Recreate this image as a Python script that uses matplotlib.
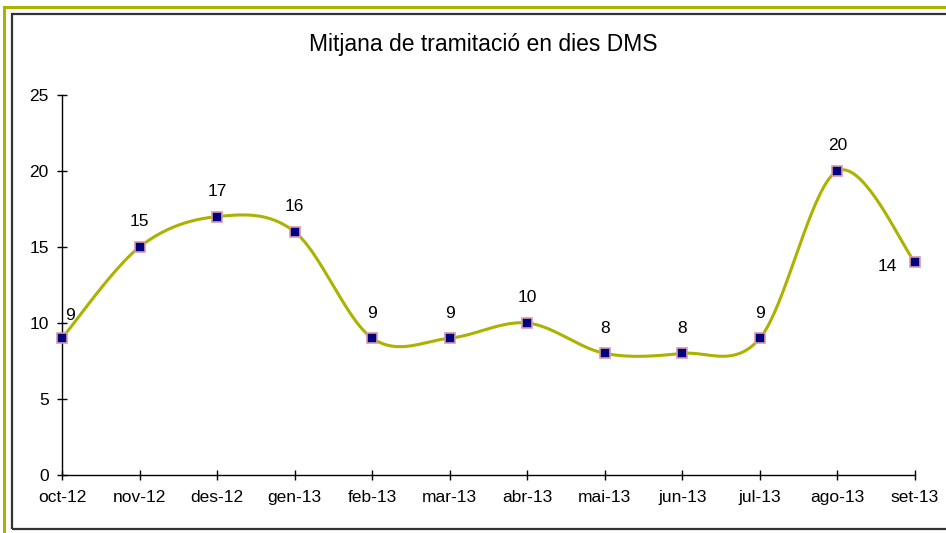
import numpy as np
from matplotlib import pyplot as plt
from matplotlib.patches import Rectangle

months = ['oct-12', 'nov-12', 'des-12', 'gen-13', 'feb-13', 'mar-13',
          'abr-13', 'mai-13', 'jun-13', 'jul-13', 'ago-13', 'set-13']
days = [9, 15, 17, 16, 9, 9, 10, 8, 8, 9, 20, 14]
# label offsets in points (dx, dy)
label_offsets = [(6, 16)] + [(0, 18)] * 10 + [(-20, -3)]

LINE = '#A9B300'


def smooth(xs, ys, n=40):
    # excel-like smoothing: cubic bezier with catmull-rom control points
    xs = np.asarray(xs, float)
    ys = np.asarray(ys, float)
    px = np.concatenate([[xs[0]], xs, [xs[-1]]])
    py = np.concatenate([[ys[0]], ys, [ys[-1]]])
    outx, outy = [], []
    t = np.linspace(0, 1, n)
    for i in range(1, len(px) - 2):
        p0 = np.array([px[i], py[i]])
        p3 = np.array([px[i + 1], py[i + 1]])
        c1 = p0 + (np.array([px[i + 1], py[i + 1]]) - np.array([px[i - 1], py[i - 1]])) / 6
        c2 = p3 - (np.array([px[i + 2], py[i + 2]]) - np.array([px[i], py[i]])) / 6
        b = ((1 - t) ** 3)[:, None] * p0 + (3 * (1 - t) ** 2 * t)[:, None] * c1 \
            + (3 * (1 - t) * t ** 2)[:, None] * c2 + (t ** 3)[:, None] * p3
        outx.extend(b[:, 0])
        outy.extend(b[:, 1])
    return outx, outy


plt.rcParams['font.family'] = ['Liberation Sans', 'DejaVu Sans']

fig = plt.figure(figsize=(9.46, 5.33), dpi=100)
W, H = 946, 533

# outer olive frame and inner black frame
fig.patches.append(Rectangle((4 / W, -0.1), 1.2, 1 - 7 / H + 0.1, transform=fig.transFigure,
                             fill=False, edgecolor=LINE, linewidth=2.2))
fig.patches.append(Rectangle((12 / W, 1 - 529 / H), 1.2, (529 - 14) / H, transform=fig.transFigure,
                             fill=False, edgecolor='#333333', linewidth=1.6))

ax = fig.add_axes([62 / W, 1 - 475 / H, (915 - 62) / W, (475 - 95) / H])
x = np.arange(len(months))
sx, sy = smooth(x, days)
ax.plot(sx, sy, color=LINE, linewidth=2.2, zorder=2, clip_on=False)
ax.plot(x, days, linestyle='none', marker='s', markersize=6.5,
        markerfacecolor='#000080', markeredgecolor='#D99AA8', markeredgewidth=1.2,
        zorder=3, clip_on=False)

for xi, v, (dx, dy) in zip(x, days, label_offsets):
    ax.annotate(str(v), (xi, v), xytext=(dx, dy), textcoords='offset points',
                ha='center', va='center', fontsize=12.5)

ax.set_xlim(0, len(months) - 1)
ax.set_ylim(0, 25)
ax.set_xticks(x)
ax.set_xticklabels(months)
ax.set_yticks([0, 5, 10, 15, 20, 25])
ax.tick_params(direction='inout', length=7, width=1, labelsize=12.5, color='black')
ax.tick_params(axis='x', pad=7)
ax.tick_params(axis='y', pad=6)
for s in ['top', 'right']:
    ax.spines[s].set_visible(False)
for s in ['left', 'bottom']:
    ax.spines[s].set_linewidth(1)

fig.text(483 / W, 1 - 45 / H, 'Mitjana de tramitació en dies DMS', ha='center', va='center',
         fontsize=16.5)

fig.savefig('out.png', dpi=100)
